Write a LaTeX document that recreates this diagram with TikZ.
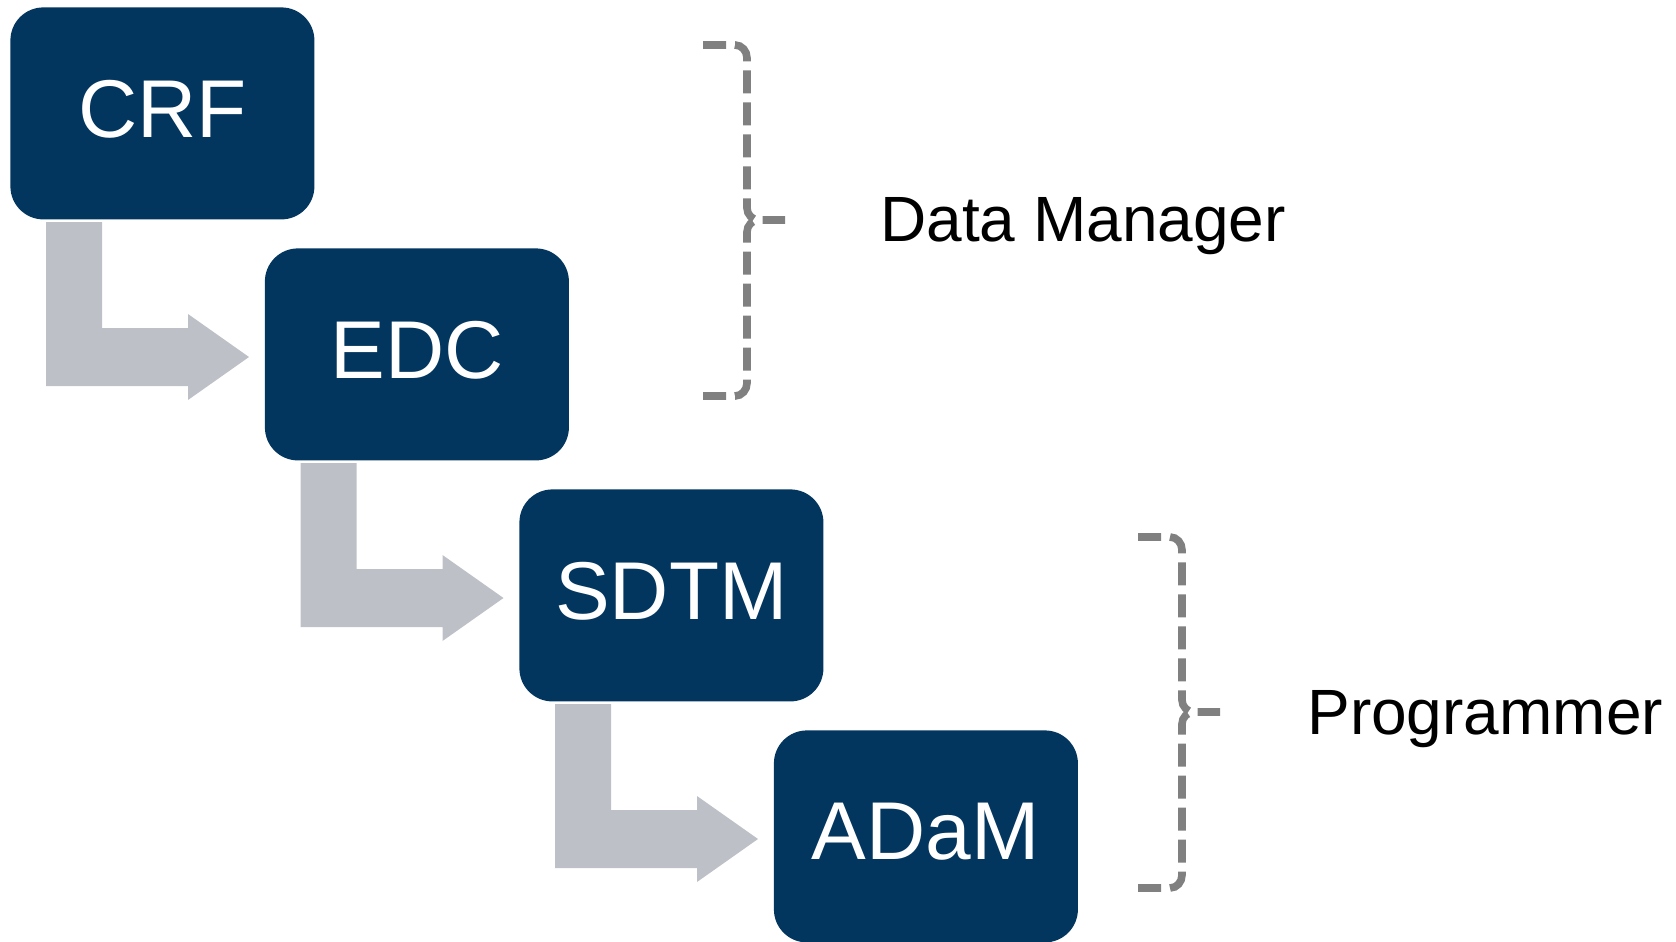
\documentclass[tikz,border=0pt]{standalone}
\usepackage{fontspec}
\setmainfont{Liberation Sans}
\definecolor{boxblue}{HTML}{03365E}
\definecolor{arrowgray}{HTML}{BDC0C6}
\definecolor{bracegray}{HTML}{808080}
\begin{document}
\begin{tikzpicture}[x=0.5pt,y=-0.5pt,
  stagebox/.style={fill=boxblue, draw=none, rounded corners=16.5pt, minimum width=152pt, minimum height=106pt, anchor=north west, text=white, font=\fontsize{41}{49}\selectfont, inner sep=0pt, text depth=5pt},
  blockarrow/.style={fill=arrowgray, draw=none},
  bracestyle/.style={draw=bracegray, line width=3.8pt, dash pattern=on 11.5pt off 4.5pt},
  rolelabel/.style={anchor=west, font=\fontsize{32}{38}\selectfont, text=black, inner sep=0pt}]
\useasboundingbox (0,0) rectangle (1676,942);
% block arrows
\foreach \i in {0,1,2}{
  \begin{scope}[shift={({254.5*\i*0.5pt},{-241*\i*0.5pt})}]
    \fill[blockarrow] (46,222) -- (102,222) -- (102,328) -- (188,328) -- (188,314) -- (249,357) -- (188,400) -- (188,386) -- (46,386) -- cycle;
  \end{scope}
}
% boxes
\node[stagebox] (crf) at (10,7) {CRF};
\node[stagebox] (edc) at (264.5,248) {EDC};
\node[stagebox] (sdtm) at (519,489) {SDTM};
\node[stagebox] (adam) at (773.5,730) {ADaM};
% braces
\draw[bracestyle] (703,45) -- (735,45) to[out=0,in=90] (747,58) -- (747,208) to[out=-90,in=180] (759,220) -- (785,220);
\draw[bracestyle] (703,396) -- (735,396) to[out=0,in=-90] (747,383) -- (747,232) to[out=90,in=180] (759,220);
\draw[bracestyle] (1138,537) -- (1170,537) to[out=0,in=90] (1182,550) -- (1182,700) to[out=-90,in=180] (1194,712) -- (1220,712);
\draw[bracestyle] (1138,888) -- (1170,888) to[out=0,in=-90] (1182,875) -- (1182,724) to[out=90,in=180] (1194,712);
% labels
\node[rolelabel] (dm) at (880,226) {Data Manager};
\node[rolelabel] (prog) at (1307,719) {Programmer};
\end{tikzpicture}
\end{document}
